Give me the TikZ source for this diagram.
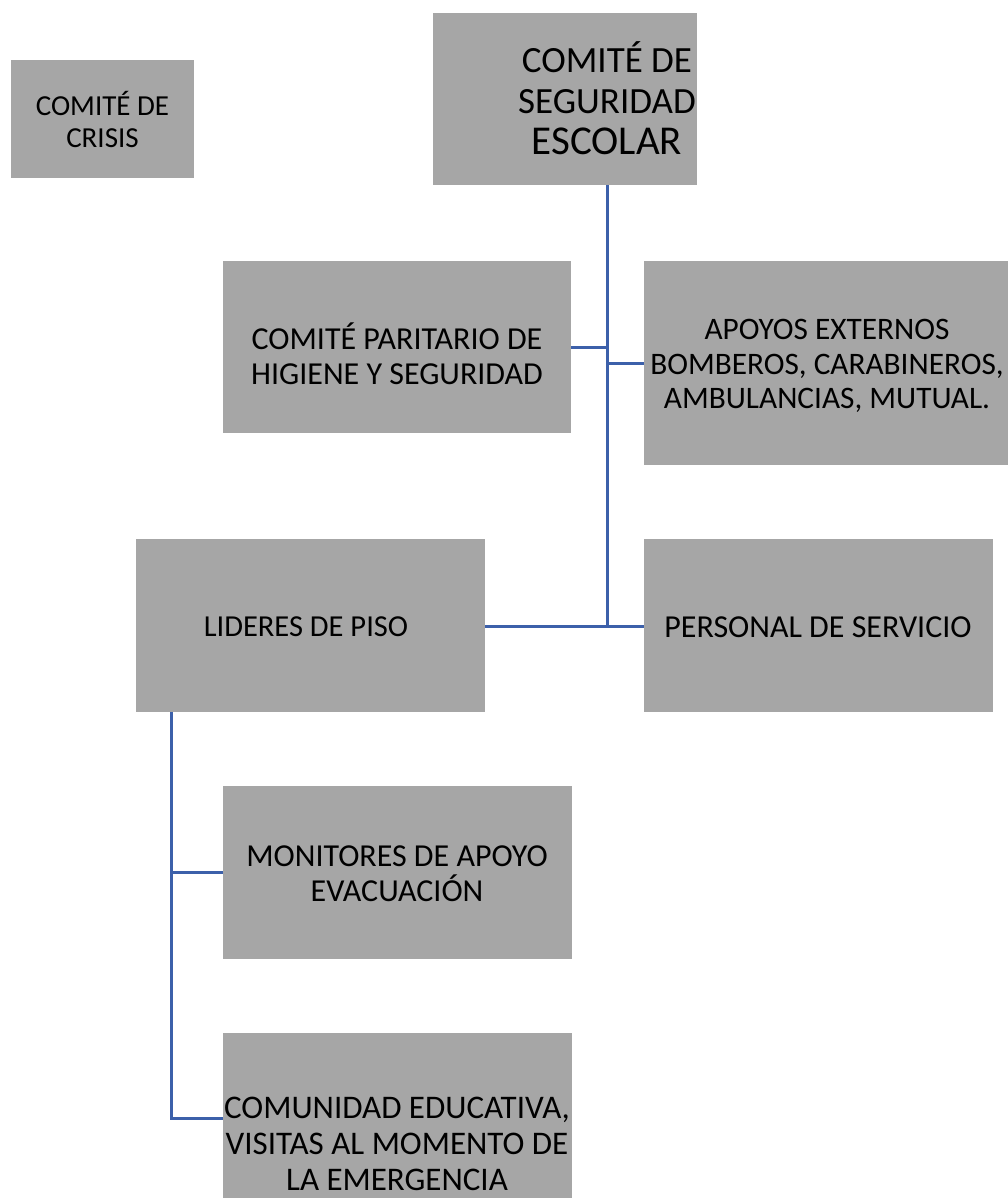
\documentclass[tikz,border=0pt]{standalone}
\usepackage{fontspec}
\setmainfont{Carlito}
\definecolor{boxgray}{RGB}{166,166,166}
\definecolor{linkblue}{RGB}{60,96,170}
\tikzset{
  box/.style={rectangle, fill=boxgray, inner sep=0pt, anchor=north west},
  lbl/.style={align=center, inner sep=0pt, text=black, font=\fontsize{32}{35}\selectfont},
  link/.style={draw=linkblue, line width=3pt}
}
\begin{document}
\begin{tikzpicture}[x=1pt, y=-1pt]
\useasboundingbox (0,0) rectangle (1008,1198);
% boxes
\node[box, minimum width=264pt, minimum height=172pt] (top) at (433,13) {};
\node[box, minimum width=183pt, minimum height=118pt] (crisis) at (11,60) {};
\node[box, minimum width=348pt, minimum height=172pt] (parit) at (223,261) {};
\node[box, minimum width=372pt, minimum height=204pt] (apoyos) at (644,261) {};
\node[box, minimum width=349pt, minimum height=173pt] (lid) at (136,539) {};
\node[box, minimum width=349pt, minimum height=173pt] (pers) at (644,539) {};
\node[box, minimum width=349pt, minimum height=173pt] (mon) at (223,786) {};
\node[box, minimum width=349pt, minimum height=170pt] (com) at (223,1033) {};
% texts
\node[lbl, font=\fontsize{37}{41}\selectfont] (toptext) at (607,98) {COMITÉ DE\\SEGURIDAD\\{\fontsize{41}{41}\selectfont ESCOLAR}};
\node[lbl, font=\fontsize{29}{32}\selectfont] (crisistext) at (102.5,119) {COMITÉ DE\\CRISIS};
\node[lbl] (parittext) at (397,354) {COMITÉ PARITARIO DE\\HIGIENE Y SEGURIDAD};
\node[lbl, font=\fontsize{31.3}{34.5}\selectfont] (apoyostext) at (827,366) {APOYOS EXTERNOS\\BOMBEROS, CARABINEROS,\\AMBULANCIAS, MUTUAL.};
\node[lbl, font=\fontsize{30.5}{35}\selectfont] (lidtext) at (306,627) {LIDERES DE PISO};
\node[lbl] (perstext) at (818,627) {PERSONAL DE SERVICIO};
\node[lbl] (montext) at (397,874) {MONITORES DE APOYO\\EVACUACIÓN};
\node[lbl, font=\fontsize{33}{36}\selectfont] (comtext) at (397,1144) {COMUNIDAD EDUCATIVA,\\VISITAS AL MOMENTO DE\\LA EMERGENCIA};
% junctions
\coordinate (j1) at (607,626);
\coordinate (j2) at (171,1118);
% connectors
\draw[link] (top.south -| j1) -- (j1);
\draw[link] (parit.east) -- (parit.east -| j1);
\draw[link] (apoyos.west -| j1) -- (apoyos.west);
\draw[link] (lid.east |- j1) -- (pers.west |- j1);
\draw[link] (lid.south -| j2) -- (j2) -- (j2 -| com.west);
\draw[link] (mon.west -| j2) -- (mon.west);
\end{tikzpicture}
\end{document}
